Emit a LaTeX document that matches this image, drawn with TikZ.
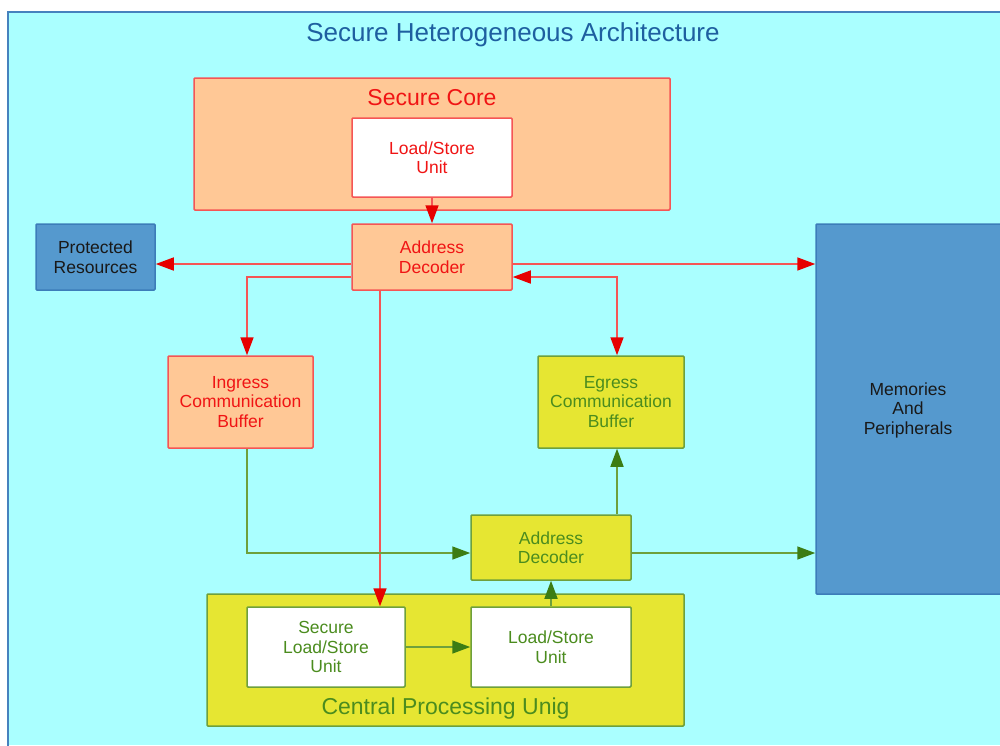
\documentclass[tikz,border=0pt]{standalone}
\usepackage{fontspec}
\setmainfont{Liberation Sans}
\usetikzlibrary{arrows.meta,calc}

\definecolor{bgcyan}{RGB}{170,255,255}
\definecolor{framblue}{RGB}{70,130,190}
\definecolor{titleblue}{RGB}{30,95,160}
\definecolor{peach}{RGB}{255,200,150}
\definecolor{redline}{RGB}{245,85,85}
\definecolor{redtip}{RGB}{230,0,0}
\definecolor{redtext}{RGB}{240,20,20}
\definecolor{yel}{RGB}{230,230,50}
\definecolor{greenline}{RGB}{110,160,60}
\definecolor{greentip}{RGB}{60,125,20}
\definecolor{greentext}{RGB}{75,140,30}
\definecolor{steel}{RGB}{85,153,206}
\definecolor{steeledge}{RGB}{60,125,185}

\tikzset{
  boxtext/.style={font=\fontsize{17.5}{19.5}\selectfont, align=center, inner sep=0pt},
  redbox/.style={boxtext, draw=redline, line width=1.5pt, fill=peach, text=redtext, rounded corners=1pt},
  redwhite/.style={redbox, fill=white},
  greenbox/.style={boxtext, draw=greenline, line width=1.5pt, fill=yel, text=greentext, rounded corners=1pt},
  greenwhite/.style={greenbox, fill=white},
  bluebox/.style={boxtext, draw=steeledge, line width=1.5pt, fill=steel, text=black!90, rounded corners=1pt},
  tipr/.tip={Triangle[length=18pt,width=13pt,color=redtip]},
  tipg/.tip={Triangle[length=18pt,width=13pt,color=greentip]},
  redarr/.style={draw=redline, line width=1.6pt, -tipr},
  redboth/.style={draw=redline, line width=1.6pt, tipr-tipr},
  greenarr/.style={draw=greenline, line width=1.6pt, -tipg},
}

\begin{document}
\begin{tikzpicture}[x=1pt,y=-1pt]
\useasboundingbox (0,0) rectangle (1000,745);

% backdrop and frame
\fill[white] (0,0) rectangle (1000,745);
\fill[bgcyan] (8,12) rectangle (1000,745);
\draw[framblue, line width=1.8pt] (8,746) -- (8,12) -- (1001,12);

\node[text=titleblue, font=\fontsize{26}{28}\selectfont] (title) at (513,35) {Secure Heterogeneous Architecture};

% secure core
\node[redbox, minimum width=476pt, minimum height=132pt] (core) at (432,144) {};
\node[text=redtext, font=\fontsize{23}{25}\selectfont] (coretitle) at (432,98) {Secure Core};
\node[redwhite, minimum width=160pt, minimum height=79pt] (lstop) at (432,157.5) {Load/Store\\Unit};

\node[redbox, minimum width=160pt, minimum height=66pt] (adred) at (432,257) {Address\\Decoder};
\node[bluebox, minimum width=119pt, minimum height=66pt] (prot) at (95.5,257) {Protected\\Resources};
\node[bluebox, minimum width=190pt, minimum height=370pt] (mem) at (911,409) {};
\node[boxtext, text=black!90] (memtext) at (908,410) {Memories\\And\\Peripherals};

\node[redbox, minimum width=145pt, minimum height=92pt] (ingress) at (240.5,402) {Ingress\\Communication\\Buffer};
\node[greenbox, minimum width=146pt, minimum height=92pt] (egress) at (611,402) {Egress\\Communication\\Buffer};
\node[greenbox, minimum width=160pt, minimum height=65pt] (adgreen) at (551,547.5) {Address\\Decoder};

% central processing unit
\node[greenbox, minimum width=477pt, minimum height=132pt] (cpu) at (445.5,660) {};
\node[text=greentext, font=\fontsize{23}{25}\selectfont] (cputitle) at (445.5,709) {Central Processing Unig};
\node[greenwhite, minimum width=158pt, minimum height=80pt] (sls) at (326,647) {Secure\\Load/Store\\Unit};
\node[greenwhite, minimum width=160pt, minimum height=80pt] (lsgreen) at (551,647) {Load/Store\\Unit};

% red connectors
\draw[redarr] (lstop.south) -- (adred.north);
\draw[redarr] ($(adred.west)+(0,7)$) -- ($(prot.east)+(0,7)$);
\coordinate (rmem) at ($(adred.east)+(0,7)$);
\draw[redarr] (rmem) -- (rmem -| mem.west);
\draw[redarr] ($(adred.west)+(0,20)$) -| ($(ingress.north)+(6.5,0)$);
\coordinate (rdown) at ($(adred.south)+(-52,0)$);
\draw[redarr] (rdown) -- (rdown |- sls.north);
\draw[redboth] ($(adred.east)+(0,20)$) -| ($(egress.north)+(6,0)$);

% green connectors
\draw[greenarr] ($(ingress.south)+(6.5,0)$) |- ($(adgreen.west)+(0,5.5)$);
\coordinate (gmem) at ($(adgreen.east)+(0,5.5)$);
\draw[greenarr] (gmem) -- (gmem -| mem.west);
\draw[greenarr] ($(adgreen.north)+(66,0)$) -- ($(egress.south)+(6,0)$);
\draw[greenarr] (sls.east) -- (lsgreen.west);
\draw[greenarr] (lsgreen.north) -- (adgreen.south);
\end{tikzpicture}
\end{document}
